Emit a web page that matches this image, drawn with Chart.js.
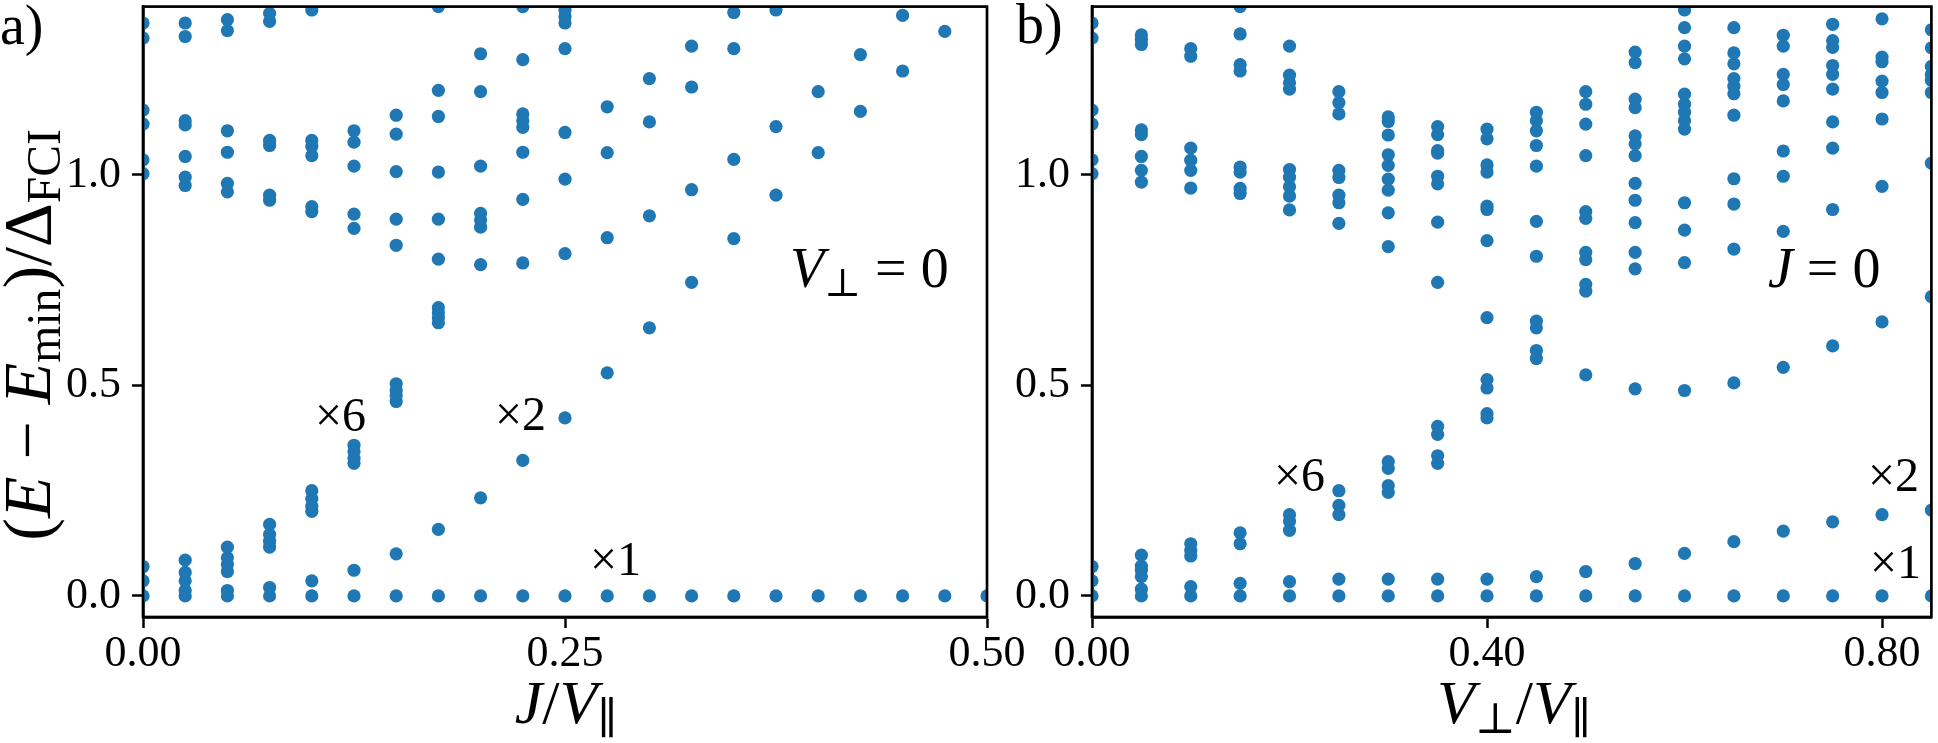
<!DOCTYPE html>
<html>
<head>
<meta charset="utf-8">
<script src="https://cdn.jsdelivr.net/npm/chart.js@4.4.0/dist/chart.umd.min.js"></script>
<style>
  body { margin: 0; background: #fff; width: 1938px; height: 743px; overflow: hidden; position: relative; font-family: 'Liberation Serif', 'DejaVu Serif', serif; color: #000; }
  canvas { position: absolute; left: 0; top: 0; }
  .lbl { position: absolute; white-space: nowrap; line-height: 1; }
  .lbl sub { font-size: 70%; vertical-align: 0; position: relative; top: 0.22em; }
  .big { font-size: 56px; }
  .mid { font-size: 48px; }
  .axt { font-size: 62px; transform: translateX(-50%); }
  #ylab { font-size: 68px; left: 27px; top: 335px; transform: translate(-50%, -50%) rotate(-90deg); }
</style>
</head>
<body>
<canvas id="panelA" width="1938" height="743"></canvas>
<canvas id="panelB" width="1938" height="743"></canvas>

<div class="lbl big" style="left:0px;top:-3px">a)</div>
<div class="lbl big" style="left:1016px;top:-4px">b)</div>
<div class="lbl" id="ylab">(<i>E</i> − <i>E</i><sub>min</sub>)/Δ<sub>FCI</sub></div>
<div class="lbl axt" style="left:566px;top:671px"><i>J</i>/<i>V</i><sub>∥</sub></div>
<div class="lbl axt" style="left:1514px;top:671px"><i>V</i><sub>⊥</sub>/<i>V</i><sub>∥</sub></div>
<div class="lbl big" style="left:790px;top:240px"><i>V</i><sub>⊥</sub> = 0</div>
<div class="lbl big" style="left:1768px;top:240px"><i>J</i> = 0</div>
<div class="lbl mid" style="left:315px;top:391px">×6</div>
<div class="lbl mid" style="left:495px;top:390px">×2</div>
<div class="lbl mid" style="left:590px;top:535px">×1</div>
<div class="lbl mid" style="left:1274px;top:451px">×6</div>
<div class="lbl mid" style="left:1868px;top:451px">×2</div>
<div class="lbl mid" style="left:1870px;top:538px">×1</div>

<script>
// panel a: levels vs J/V_par (V_perp = 0)
const jVals = [0, 0.025, 0.05, 0.075, 0.1, 0.125, 0.15, 0.175, 0.2, 0.225, 0.25,
               0.275, 0.3, 0.325, 0.35, 0.375, 0.4, 0.425, 0.45, 0.475, 0.5]
const levelsA = [
  [0, 0.036, 0.070, 1.003, 1.036, 1.121, 1.154, 1.325, 1.361],
  [0, 0.013, 0.036, 0.056, 0.085, 0.975, 0.995, 1.044, 1.119, 1.129, 1.329, 1.361],
  [0, 0.013, 0.058, 0.075, 0.091, 0.116, 0.960, 0.980, 1.054, 1.105, 1.343, 1.369],
  [0, 0.020, 0.116, 0.130, 0.146, 0.170, 0.940, 0.952, 1.070, 1.082, 1.365, 1.384],
  [0, 0.036, 0.201, 0.213, 0.231, 0.250, 0.913, 0.925, 1.046, 1.068, 1.082, 1.392],
  [0, 0.061, 0.315, 0.327, 0.343, 0.358, 0.873, 0.907, 1.021, 1.078, 1.105],
  [0, 0.100, 0.462, 0.476, 0.488, 0.504, 0.833, 0.895, 1.008, 1.097, 1.142],
  [0, 0.158, 0.649, 0.661, 0.673, 0.685, 0.800, 0.895, 1.007, 1.139, 1.201, 1.400],
  [0, 0.233, 0.787, 0.876, 0.893, 0.909, 1.021, 1.198, 1.288],
  [0, 0.322, 0.791, 0.942, 1.054, 1.113, 1.129, 1.145, 1.274, 1.400],
  [0, 0.423, 0.813, 0.990, 1.101, 1.300, 1.361, 1.376, 1.392],
  [0, 0.530, 0.851, 1.053, 1.162],
  [0, 0.637, 0.903, 1.126, 1.229],
  [0, 0.745, 0.965, 1.209, 1.306],
  [0, 0.849, 1.037, 1.300, 1.386],
  [0, 0.952, 1.115, 1.392],
  [0, 1.053, 1.198],
  [0, 1.151, 1.286],
  [0, 1.247, 1.379],
  [0, 1.341],
  [0]
]

// panel b: levels vs V_perp/V_par (J = 0)
const vVals = [0, 0.05, 0.1, 0.15, 0.2, 0.25, 0.3, 0.35, 0.4,
               0.45, 0.5, 0.55, 0.6, 0.65, 0.7, 0.75, 0.8, 0.85]
const levelsB = [
  [0, 0.036, 0.070, 1.003, 1.036, 1.121, 1.154, 1.325, 1.361],
  [0, 0.016, 0.046, 0.061, 0.071, 0.097, 0.983, 1.011, 1.044, 1.096, 1.107, 1.310, 1.322, 1.333],
  [0, 0.022, 0.095, 0.108, 0.124, 0.969, 1.011, 1.035, 1.064, 1.282, 1.300],
  [0, 0.030, 0.124, 0.150, 0.956, 0.968, 1.007, 1.019, 1.247, 1.262, 1.335, 1.400],
  [0, 0.034, 0.156, 0.178, 0.193, 0.917, 0.950, 0.972, 0.995, 1.013, 1.204, 1.219, 1.237, 1.306],
  [0, 0.040, 0.193, 0.215, 0.250, 0.885, 0.934, 0.952, 0.994, 1.011, 1.145, 1.172, 1.198],
  [0, 0.040, 0.246, 0.262, 0.303, 0.319, 0.830, 0.910, 0.964, 0.990, 1.023, 1.048, 1.095, 1.127, 1.138],
  [0, 0.040, 0.315, 0.333, 0.384, 0.403, 0.745, 0.888, 0.979, 0.997, 1.052, 1.058, 1.096, 1.115],
  [0, 0.040, 0.423, 0.433, 0.494, 0.514, 0.661, 0.844, 0.918, 0.926, 1.007, 1.024, 1.086, 1.109],
  [0, 0.046, 0.564, 0.583, 0.637, 0.653, 0.807, 0.890, 1.021, 1.070, 1.105, 1.129, 1.149],
  [0, 0.058, 0.525, 0.724, 0.740, 0.799, 0.816, 0.897, 0.913, 1.046, 1.121, 1.168, 1.198],
  [0, 0.077, 0.492, 0.777, 0.816, 0.887, 0.940, 0.980, 1.046, 1.074, 1.093, 1.160, 1.180, 1.267, 1.292],
  [0, 0.101, 0.488, 0.792, 0.869, 0.934, 1.109, 1.129, 1.149, 1.168, 1.192, 1.276, 1.306, 1.350, 1.392],
  [0, 0.129, 0.506, 0.824, 0.931, 0.991, 1.142, 1.193, 1.211, 1.229, 1.264, 1.290, 1.350],
  [0, 0.154, 0.543, 0.866, 0.997, 1.057, 1.176, 1.215, 1.239, 1.306, 1.332],
  [0, 0.176, 0.594, 0.918, 1.064, 1.126, 1.204, 1.239, 1.260, 1.303, 1.319, 1.358],
  [0, 0.193, 0.651, 0.973, 1.133, 1.196, 1.223, 1.269, 1.280, 1.371],
  [0, 0.204, 0.711, 1.028, 1.196, 1.225, 1.239, 1.258, 1.302, 1.345]
]

const xTicksA = [0, 0.25, 0.5]
const xTicksB = [0, 0.4, 0.8]
const yTicks = [0, 0.5, 1.0]

const tickFont = { family: 'Liberation Serif', size: 44 }

function toPoints(xs, levels) {
    let pts = []
    xs.forEach(function (x, i) {
        levels[i].forEach(function (y) { pts.push({ x: x, y: y }) })
    })
    return pts
}

// box around the plot area, like matplotlib spines
const frame = {
    id: 'frame',
    afterDraw(chart) {
        const ctx = chart.ctx, a = chart.chartArea
        ctx.save()
        ctx.strokeStyle = '#000'
        ctx.lineWidth = 2.7
        ctx.strokeRect(a.left, a.top, a.right - a.left, a.bottom - a.top)
        ctx.restore()
    }
}

function makePanel(id, xs, levels, xMax, xTicks, pad, yWidth) {
    return new Chart(document.getElementById(id), {
        type: 'scatter',
        data: {
            datasets: [{
                data: toPoints(xs, levels),
                backgroundColor: '#1f77b4',
                pointBackgroundColor: '#1f77b4',
                pointBorderWidth: 0,
                pointRadius: 6.6,
                clip: 0,
            }],
        },
        options: {
            responsive: false,
            animation: false,
            devicePixelRatio: 1,
            layout: { padding: pad },
            plugins: { legend: { display: false }, tooltip: { enabled: false } },
            scales: {
                x: {
                    type: 'linear', min: 0, max: xMax,
                    afterBuildTicks: function (s) { s.ticks = xTicks.map(v => ({ value: v })) },
                    // fixed size, and no extra room for the end labels
                    afterFit: function (s) { s.height = 126; s.paddingLeft = 0; s.paddingRight = 0 },
                    ticks: { callback: v => v.toFixed(2), color: '#000', font: tickFont, padding: 0, maxRotation: 0, autoSkip: false },
                    grid: { drawOnChartArea: false, tickLength: 11, tickWidth: 2.5, color: '#000' },
                    border: { color: '#000', width: 2.7 },
                },
                y: {
                    type: 'linear', min: -0.05, max: 1.4,
                    afterBuildTicks: function (s) { s.ticks = yTicks.map(v => ({ value: v })) },
                    afterFit: function (s) { s.width = yWidth; s.paddingTop = 0; s.paddingBottom = 0 },
                    ticks: { callback: v => v.toFixed(1), color: '#000', font: tickFont, padding: 11, autoSkip: false },
                    grid: { drawOnChartArea: false, tickLength: 11, tickWidth: 2.5, color: '#000' },
                    border: { color: '#000', width: 2.7 },
                },
            },
        },
        plugins: [frame],
    })
}

makePanel('panelA', jVals, levelsA, 0.5, xTicksA, { left: 0, top: 2, right: 951, bottom: 0 }, 143)
makePanel('panelB', vVals, levelsB, 0.85, xTicksB, { left: 1000, top: 2, right: 2, bottom: 0 }, 92)
</script>
</body>
</html>
